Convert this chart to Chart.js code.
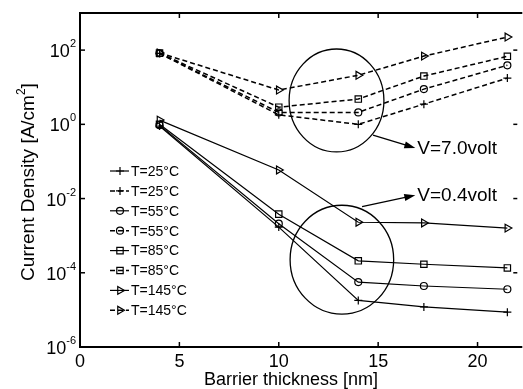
<!DOCTYPE html>
<html>
<head>
<meta charset="utf-8">
<script src="https://cdn.jsdelivr.net/npm/chart.js@4.4.1/dist/chart.umd.min.js"></script>
<style>
  html, body { margin: 0; padding: 0; background: #fff; }
</style>
</head>
<body>
<canvas id="chart" width="523" height="389"></canvas>
<script>
// barrier thickness [nm]
const thickness = [4, 10, 14, 17.3, 21.5];

// V = 0.4 volt (solid lines)
const low25  = [0.9, 0.0017, 1.8e-5, 1.2e-5, 8.7e-6];
const low55  = [0.95, 0.0021, 5.6e-5, 4.4e-5, 3.6e-5];
const low85  = [1.0, 0.0038, 2.1e-4, 1.7e-4, 1.35e-4];
const low145 = [1.3, 0.059, 0.0023, 0.0022, 0.0016];

// V = 7.0 volt (dashed lines)
const high25  = [82, 1.8, 1.0, 3.5, 17.6];
const high55  = [82, 2.1, 2.1, 8.9, 39];
const high85  = [83, 2.9, 4.8, 20, 68];
const high145 = [84, 8.4, 21, 69, 225];

const tempLabels = ['T=25°C', 'T=55°C', 'T=85°C', 'T=145°C'];
const xTicks = [0, 5, 10, 15, 20];
const yExponents = [-6, -4, -2, 0, 2];

const FONT = '"Liberation Sans", Arial, sans-serif';

function markerSize(style) {
  if (style === 'rect') return 4.5;
  if (style === 'triangle') return 4.5;
  if (style === 'cross') return 4;
  return 3.5;
}

function series(label, values, style, dashed) {
  return {
    label: label,
    data: thickness.map((t, i) => ({ x: t, y: values[i] })),
    borderColor: '#000',
    backgroundColor: 'rgba(0,0,0,0)',
    borderWidth: dashed ? 1.5 : 1.2,
    borderDash: dashed ? [5, 3] : [],
    pointStyle: style,
    pointRotation: style === 'triangle' ? 90 : 0,
    pointRadius: markerSize(style),
    pointBorderWidth: 1.2,
    pointBorderColor: '#000',
    pointBackgroundColor: 'rgba(0,0,0,0)',
    tension: 0,
    fill: false
  };
}

const datasets = [
  series(tempLabels[0], low25, 'cross', false),
  series(tempLabels[0], high25, 'cross', true),
  series(tempLabels[1], low55, 'circle', false),
  series(tempLabels[1], high55, 'circle', true),
  series(tempLabels[2], low85, 'rect', false),
  series(tempLabels[2], high85, 'rect', true),
  series(tempLabels[3], low145, 'triangle', false),
  series(tempLabels[3], high145, 'triangle', true)
];

// annotations in data coordinates
const ellipses = [
  { x0: 10.52, x1: 15.29, y0: 107, y1: 0.18 },
  { x0: 10.57, x1: 15.78, y0: 0.0066, y1: 7.7e-6 }
];
const arrows = [
  { from: [14.74, 0.51], to: [16.87, 0.23], text: 'V=7.0volt' },
  { from: [14.19, 0.0061], to: [16.87, 0.0123], text: 'V=0.4volt' }
];

function seg(ctx, x1, y1, x2, y2) {
  ctx.beginPath(); ctx.moveTo(x1, y1); ctx.lineTo(x2, y2); ctx.stroke();
}

const matlabFrame = {
  id: 'matlabFrame',
  afterDraw(chart) {
    const { ctx, chartArea: a, scales: { x, y } } = chart;
    ctx.save();
    ctx.strokeStyle = '#000';
    ctx.fillStyle = '#000';
    ctx.setLineDash([]);

    // box
    ctx.lineWidth = 2;
    ctx.beginPath();
    ctx.moveTo(a.right + 5, a.top);
    ctx.lineTo(a.left, a.top);
    ctx.lineTo(a.left, a.bottom);
    ctx.lineTo(a.right + 5, a.bottom);
    ctx.stroke();

    // inward ticks
    ctx.lineWidth = 1.5;
    xTicks.forEach(v => {
      const px = x.getPixelForValue(v);
      seg(ctx, px, a.bottom, px, a.bottom - 5);
      seg(ctx, px, a.top, px, a.top + 5);
    });
    yExponents.forEach(e => {
      const py = y.getPixelForValue(Math.pow(10, e));
      seg(ctx, a.left, py, a.left + 5, py);
      seg(ctx, a.right, py, a.right - 4, py);
    });

    // x tick labels
    ctx.font = '18px ' + FONT;
    ctx.textAlign = 'center';
    ctx.textBaseline = 'middle';
    xTicks.forEach(v => ctx.fillText(String(v), x.getPixelForValue(v), a.bottom + 15));

    // y tick labels 10^n
    yExponents.forEach(e => {
      const py = y.getPixelForValue(Math.pow(10, e));
      ctx.textBaseline = 'alphabetic';
      ctx.textAlign = 'right';
      ctx.font = '11px ' + FONT;
      const sup = String(e);
      const supW = ctx.measureText(sup).width;
      ctx.fillText(sup, 76, py - 3);
      ctx.font = '18px ' + FONT;
      ctx.fillText('10', 76 - supW, py + 7);
    });

    // axis titles
    ctx.font = '18px ' + FONT;
    ctx.textAlign = 'center';
    ctx.textBaseline = 'middle';
    ctx.fillText('Barrier thickness [nm]', (a.left + 500) / 2 + 1, 380);

    ctx.save();
    ctx.translate(29, 182);
    ctx.rotate(-Math.PI / 2);
    ctx.font = '19px ' + FONT;
    const t1 = 'Current Density [A/cm';
    const w1 = ctx.measureText(t1).width;
    ctx.font = '12px ' + FONT;
    const w2 = ctx.measureText('2').width;
    ctx.font = '19px ' + FONT;
    const w3 = ctx.measureText(']').width;
    const start = -(w1 + w2 + w3) / 2;
    ctx.textAlign = 'left';
    ctx.fillText(t1, start, 0);
    ctx.font = '12px ' + FONT;
    ctx.fillText('2', start + w1, -7);
    ctx.font = '19px ' + FONT;
    ctx.fillText(']', start + w1 + w2, 0);
    ctx.restore();

    // legend
    chart.data.datasets.forEach((ds, i) => {
      const ly = 171 + i * 19.9;
      ctx.strokeStyle = '#000';
      ctx.lineWidth = ds.borderWidth;
      ctx.setLineDash(ds.borderDash);
      seg(ctx, 110, ly, 129, ly);
      ctx.setLineDash([]);
      ctx.lineWidth = 1.2;
      ctx.fillStyle = 'rgba(0,0,0,0)';
      Chart.helpers.drawPoint(ctx, {
        pointStyle: ds.pointStyle,
        rotation: ds.pointRotation,
        radius: ds.pointRadius,
        borderWidth: 1.2
      }, 120, ly);
      ctx.fillStyle = '#000';
      ctx.font = '14px ' + FONT;
      ctx.textAlign = 'left';
      ctx.textBaseline = 'middle';
      ctx.fillText(ds.label, 131, ly + 1);
    });

    // ellipses
    ctx.lineWidth = 1.3;
    ellipses.forEach(el => {
      const l = x.getPixelForValue(el.x0), r = x.getPixelForValue(el.x1);
      const t = y.getPixelForValue(el.y0), b = y.getPixelForValue(el.y1);
      ctx.beginPath();
      ctx.ellipse((l + r) / 2, (t + b) / 2, (r - l) / 2, (b - t) / 2, 0, 0, Math.PI * 2);
      ctx.stroke();
    });

    // arrows + text
    arrows.forEach(ar => {
      const x1 = x.getPixelForValue(ar.from[0]), y1 = y.getPixelForValue(ar.from[1]);
      const x2 = x.getPixelForValue(ar.to[0]), y2 = y.getPixelForValue(ar.to[1]);
      const ang = Math.atan2(y2 - y1, x2 - x1);
      ctx.lineWidth = 1.3;
      seg(ctx, x1, y1, x2 - 8 * Math.cos(ang), y2 - 8 * Math.sin(ang));
      ctx.beginPath();
      ctx.moveTo(x2, y2);
      ctx.lineTo(x2 - 11 * Math.cos(ang) + 3.5 * Math.sin(ang), y2 - 11 * Math.sin(ang) - 3.5 * Math.cos(ang));
      ctx.lineTo(x2 - 11 * Math.cos(ang) - 3.5 * Math.sin(ang), y2 - 11 * Math.sin(ang) + 3.5 * Math.cos(ang));
      ctx.closePath();
      ctx.fill();
      ctx.font = '19px ' + FONT;
      ctx.textAlign = 'left';
      ctx.textBaseline = 'middle';
      ctx.fillText(ar.text, x2 + 2, y2 + 1);
    });

    ctx.restore();
  }
};

new Chart(document.getElementById('chart').getContext('2d'), {
  type: 'line',
  data: { datasets: datasets },
  options: {
    responsive: false,
    animation: false,
    devicePixelRatio: 1,
    layout: { padding: { left: 80, top: 13, right: 0, bottom: 42 } },
    plugins: { legend: { display: false }, tooltip: { enabled: false } },
    scales: {
      x: { type: 'linear', min: 0, max: 22, display: false },
      y: { type: 'logarithmic', min: 1e-6, max: 1e3, display: false }
    }
  },
  plugins: [matlabFrame]
});
</script>
</body>
</html>
